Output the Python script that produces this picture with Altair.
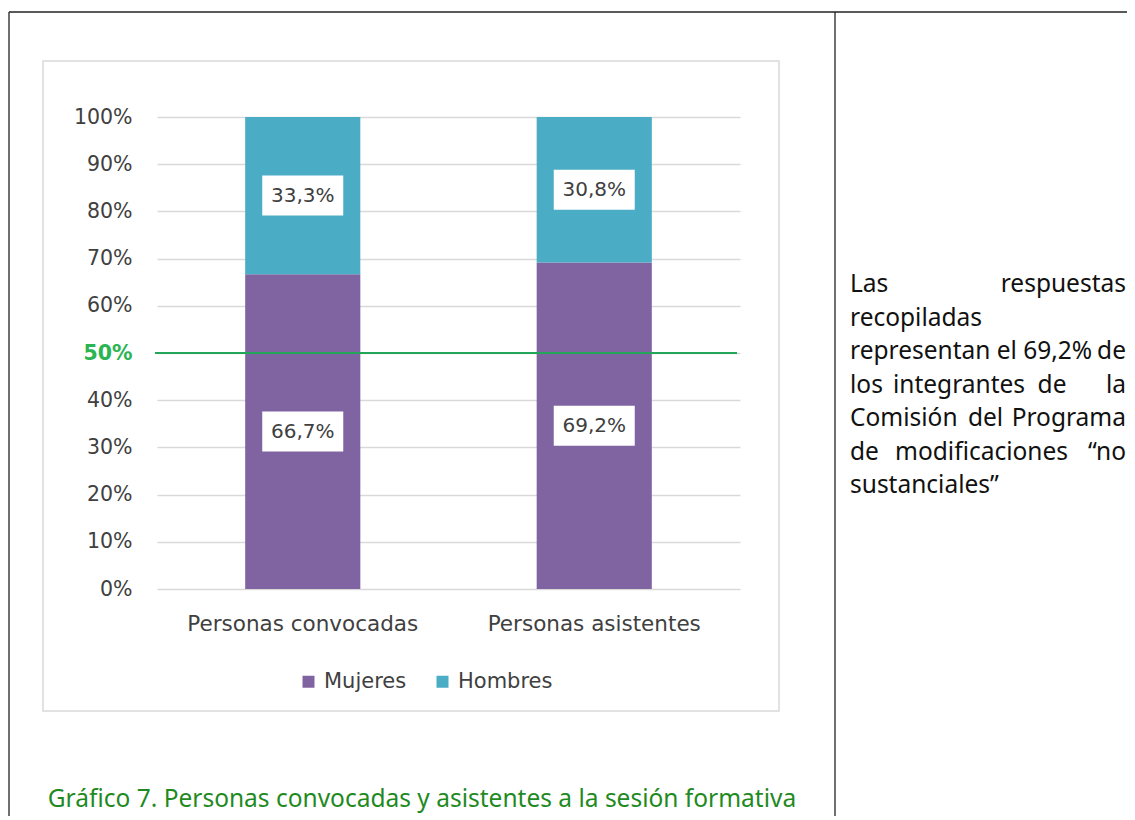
import altair as alt
import pandas as pd

# ---------------- data ----------------
categories = ["Personas convocadas", "Personas asistentes"]
groups = ["Mujeres", "Hombres"]
mujeres = [66.7, 69.2]
hombres = [33.3, 30.8]
y_ticks = [0, 10, 20, 30, 40, 50, 60, 70, 80, 90, 100]
reference_value = 50
caption = "Gráfico 7. Personas convocadas y asistentes a la sesión formativa"

# side text, word by word (justified paragraph in the right-hand table cell)
side_words = [
    # (line, word, align)
    (0, "Las", "left"), (0, "respuestas", "right"),
    (1, "recopiladas", "left"),
    (2, "representan el 69,2%", "left"), (2, "de", "right"),
    (3, "los", "left"), (3, "integrantes", "center"), (3, "de", "center"), (3, "la", "right"),
    (4, "Comisión", "left"), (4, "del", "center"), (4, "Programa", "right"),
    (5, "de", "left"), (5, "modificaciones", "center"), (5, "\u201cno", "right"),
    (6, "sustanciales\u201d", "left"),
]
# layout (pixel offsets from plot origin) for those words
side_word_x = [693, 969, 693, 693, 969, 693, 802, 895, 969, 693, 828.5, 969, 693, 824.5, 969, 693]
side_line_y = [175, 208.5, 242, 275.5, 309, 342.5, 376]

# ---------------- styles ----------------
CHART_FONT = "DejaVu Sans"
DOC_FONT = "Noto Sans"
PURPLE = "#8064a2"
TEAL = "#4bacc6"
TEXT_GRAY = "#404040"
GRID = "#d9d9d9"
GREEN_LINE = "#23a55a"
GREEN_LABEL = "#2ab552"
CAPTION_GREEN = "#1f8a1f"
W, H = 583, 472

rows = []
for i, c in enumerate(categories):
    rows.append({"cat": c, "grupo": "Mujeres", "valor": mujeres[i], "orden": 0,
                 "mid": mujeres[i] / 2})
    rows.append({"cat": c, "grupo": "Hombres", "valor": hombres[i], "orden": 1,
                 "mid": mujeres[i] + hombres[i] / 2})
df = pd.DataFrame(rows)
df["etiqueta"] = df["valor"].map(lambda v: f"{v:.1f}".replace(".", ",") + "%")

one = pd.DataFrame({"k": [0]})

x_enc = alt.X(
    "cat:N", sort=categories, title=None,
    scale=alt.Scale(paddingInner=0.605, paddingOuter=0.3025),
    axis=alt.Axis(labelAngle=0, domain=False, ticks=False, grid=False,
                  labelFont=CHART_FONT, labelFontSize=21.5, labelColor=TEXT_GRAY,
                  labelPadding=24, labelLimit=0),
)

bars = alt.Chart(df).mark_bar().encode(
    x=x_enc,
    y=alt.Y("valor:Q", stack="zero", title=None,
            scale=alt.Scale(domain=[0, 100], nice=False),
            axis=alt.Axis(values=y_ticks, labelExpr="datum.value + '%'",
                          domain=False, ticks=False, grid=True, gridColor=GRID,
                          gridWidth=1.3,
                          labelFont=CHART_FONT, labelFontSize=20.5,
                          labelColor={"condition": {"test": f"datum.value == {reference_value}",
                                                    "value": GREEN_LABEL},
                                      "value": TEXT_GRAY},
                          labelFontWeight={"condition": {"test": f"datum.value == {reference_value}",
                                                         "value": "bold"},
                                           "value": "normal"},
                          labelPadding=25)),
    color=alt.Color("grupo:N", scale=alt.Scale(domain=groups, range=[PURPLE, TEAL]),
                    legend=alt.Legend(title=None, orient="none", direction="horizontal",
                                      legendX=141, legendY=554, symbolType="square",
                                      symbolSize=144, symbolStrokeWidth=0,
                                      labelFont=CHART_FONT, labelFontSize=21,
                                      labelColor=TEXT_GRAY, labelOffset=5,
                                      columnPadding=25, padding=0)),
    order=alt.Order("orden:Q"),
)

ref_line = alt.Chart(pd.DataFrame({"y": [reference_value]})).mark_rule(
    color=GREEN_LINE, strokeWidth=2
).encode(y="y:Q", x=alt.value(-2), x2=alt.value(580))

label_boxes = alt.Chart(df).mark_point(
    shape="M-1,-0.494L1,-0.494L1,0.494L-1,0.494Z", size=6561,
    filled=True, fill="white", opacity=1, strokeWidth=0
).encode(x=alt.X("cat:N", sort=categories), y="mid:Q")

label_text = alt.Chart(df).mark_text(
    font=CHART_FONT, fontSize=20, color=TEXT_GRAY, baseline="middle", align="center"
).encode(x=alt.X("cat:N", sort=categories), y="mid:Q", text="etiqueta:N")

# chart frame (light grey) and document table borders
frame = alt.Chart(one).mark_rect(fill=None, stroke=GRID, strokeWidth=1.5).encode(
    x=alt.value(-114), x2=alt.value(622), y=alt.value(-56), y2=alt.value(594))

table_top = alt.Chart(one).mark_rule(color="#222222", strokeWidth=1.3).encode(
    x=alt.value(-148), x2=alt.value(1000), y=alt.value(-105))
table_left = alt.Chart(one).mark_rule(color="#222222", strokeWidth=1.3).encode(
    x=alt.value(-148), y=alt.value(-105), y2=alt.value(720))
table_mid = alt.Chart(one).mark_rule(color="#222222", strokeWidth=1.3).encode(
    x=alt.value(678), y=alt.value(-105), y2=alt.value(720))

caption_text = alt.Chart(one).mark_text(
    font=DOC_FONT, fontSize=24.5, color=CAPTION_GREEN, align="center", baseline="alphabetic"
).encode(x=alt.value(265), y=alt.value(690), text=alt.value(caption))

side_layers = []
for (line, word, align), px in zip(side_words, side_word_x):
    side_layers.append(
        alt.Chart(one).mark_text(font=DOC_FONT, fontSize=24.5, color="#111111",
                                 align=align, baseline="alphabetic")
        .encode(x=alt.value(px), y=alt.value(side_line_y[line]), text=alt.value(word))
    )

chart = alt.layer(
    frame, table_top, table_left, table_mid,
    bars, ref_line, label_boxes, label_text, caption_text, *side_layers
).properties(
    width=W, height=H,
    autosize=alt.AutoSizeParams(type="none"),
    padding={"left": 149, "top": 109, "right": 387, "bottom": 227},
    background="white",
).configure_view(stroke=None)

chart.save("out.html", embed_options={"renderer": "svg", "actions": False})
